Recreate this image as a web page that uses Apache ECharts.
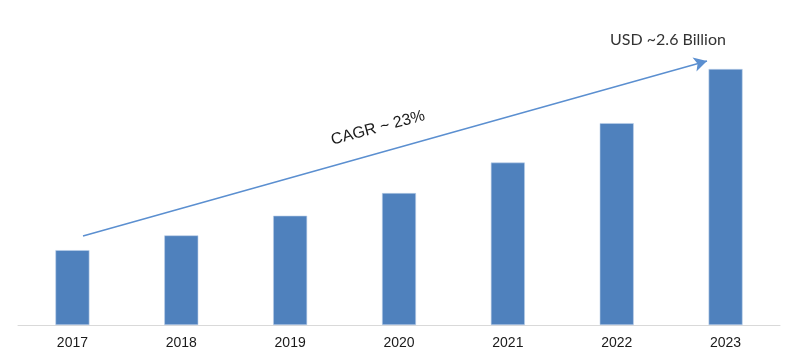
<!DOCTYPE html>
<html><head><meta charset="utf-8">
<script src="https://cdn.jsdelivr.net/npm/echarts@6/dist/echarts.min.js"></script>
<style>html,body{margin:0;padding:0;background:#fff}#c{width:800px;height:363px}</style>
</head><body><div id="c"></div>
<script>
const years = ['2017','2018','2019','2020','2021','2022','2023'];
const values = [0.76, 0.91, 1.11, 1.34, 1.65, 2.05, 2.6];
const cagrLabel = 'CAGR ~ 23%';
const endLabel = 'USD ~2.6 Billion';

const chart = echarts.init(document.getElementById('c'));
chart.setOption({
  animation: false,
  grid: {left: 18, right: 20, top: 69, bottom: 38},
  xAxis: {
    type: 'category', data: years,
    axisLine: {lineStyle: {color: '#d9d9d9', width: 1}},
    axisTick: {show: false},
    axisLabel: {color: '#1a1a1a', fontFamily: 'Liberation Sans', fontSize: 14, margin: 11}
  },
  yAxis: {type: 'value', min: 0, max: 2.6, show: false, splitLine: {show: false}},
  series: [{
    type: 'bar', data: values, barWidth: 34,
    itemStyle: {color: '#4f81bd', borderColor: '#bcd0ea', borderWidth: 0.6},
    markLine: {
      silent: true, symbol: ['none', 'arrow'], symbolSize: [11, 13],
      label: {show: false},
      lineStyle: {color: '#5b8fd0', width: 1.5, type: 'solid'},
      data: [[{x: 83, y: 236}, {x: 707, y: 61}]]
    }
  }],
  graphic: [
    {type: 'text', x: 378, y: 128, rotation: 15 * Math.PI / 180,
     style: {text: cagrLabel, fill: '#1a1a1a', font: '16px "Liberation Sans"', align: 'center', verticalAlign: 'middle'}},
    {type: 'text', x: 668, y: 40,
     style: {text: endLabel, fill: '#333', font: '16px Lato', align: 'center', verticalAlign: 'middle'}}
  ]
});
</script></body></html>
